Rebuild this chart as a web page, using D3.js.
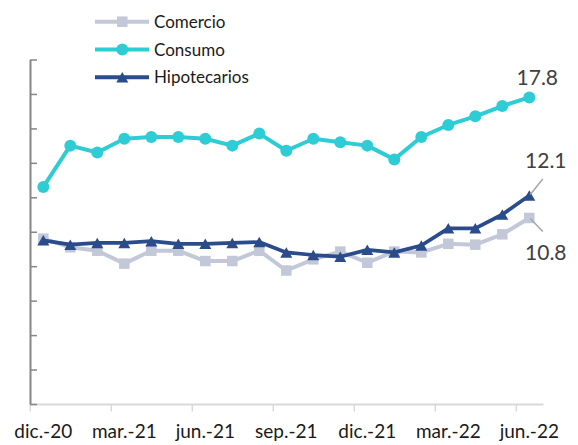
<!DOCTYPE html>
<html>
<head>
<meta charset="utf-8">
<script src="https://cdn.jsdelivr.net/npm/d3@7"></script>
<style>
  html, body { margin: 0; padding: 0; background: #fff; }
  svg { display: block; font-family: Lato, "Open Sans", sans-serif; }
</style>
</head>
<body>
<svg id="chart" width="578" height="445"></svg>
<script>
const months = ["dic.-20","ene.-21","feb.-21","mar.-21","abr.-21","may.-21","jun.-21","jul.-21","ago.-21","sep.-21","oct.-21","nov.-21","dic.-21","ene.-22","feb.-22","mar.-22","abr.-22","may.-22","jun.-22"];
const tickLabels = ["dic.-20","mar.-21","jun.-21","sep.-21","dic.-21","mar.-22","jun.-22"];
const comercio = [9.6, 9.1, 8.9, 8.15, 8.9, 8.9, 8.3, 8.3, 8.9, 7.75, 8.4, 8.85, 8.2, 8.85, 8.8, 9.3, 9.25, 9.85, 10.8];
const consumo = [12.6, 15.0, 14.6, 15.4, 15.5, 15.5, 15.4, 15.0, 15.7, 14.7, 15.4, 15.2, 15.0, 14.2, 15.5, 16.2, 16.7, 17.3, 17.8];
const hipotecarios = [9.5, 9.25, 9.35, 9.35, 9.45, 9.3, 9.3, 9.35, 9.4, 8.8, 8.65, 8.55, 8.95, 8.8, 9.2, 10.2, 10.2, 11.0, 12.1];
const yTicks = [0, 2, 4, 6, 8, 10, 12, 14, 16, 18, 20];

const series = [
  { name: "Comercio", values: comercio, color: "#C3C8D8", marker: "square", width: 4 },
  { name: "Consumo", values: consumo, color: "#2ECCD4", marker: "circle", width: 4 },
  { name: "Hipotecarios", values: hipotecarios, color: "#2A4C8A", marker: "triangle", width: 3.75 }
];

const svg = d3.select("#chart");
const x = d3.scaleBand().domain(months).range([29.8, 542.8]).padding(0);
const y = d3.scaleLinear().domain([0, 20]).range([404, 59.5]);
const cx = d => x(d) + x.bandwidth() / 2;

// X axis
const xAxisY = 404.5;
svg.append("line").attr("x1", 30).attr("x2", 543.5).attr("y1", xAxisY).attr("y2", xAxisY)
  .attr("stroke", "#D9D9D9").attr("stroke-width", 2);
svg.selectAll(".xtick").data(tickLabels).join("line")
  .attr("x1", d => x(d) + 0.5).attr("x2", d => x(d) + 0.5)
  .attr("y1", xAxisY).attr("y2", xAxisY + 7)
  .attr("stroke", "#D9D9D9").attr("stroke-width", 1.5);
svg.selectAll(".xlab").data(tickLabels).join("text")
  .attr("x", d => cx(d)).attr("y", 438)
  .attr("text-anchor", "middle").attr("font-size", 19).attr("fill", "#1a1a1a")
  .text(d => d);

// Y axis
const yAxis = d3.axisRight(y).tickValues(yTicks).tickSize(7).tickSizeOuter(0).tickFormat("");
const gy = svg.append("g").attr("transform", "translate(30,0)").call(yAxis);
gy.select(".domain").attr("stroke", "#868686").attr("stroke-width", 2);
gy.selectAll(".tick line").attr("stroke", "#868686").attr("stroke-width", 1.5);

function drawMarker(g, type, px, py, color) {
  if (type === "circle") {
    g.append("circle").attr("cx", px).attr("cy", py).attr("r", 6).attr("fill", color);
  } else if (type === "square") {
    const s = 10.5;
    g.append("rect").attr("x", px - s / 2).attr("y", py - s / 2).attr("width", s).attr("height", s).attr("fill", color);
  } else {
    const w = 12, h = 10.5;
    g.append("path").attr("d", `M${px},${py - h / 2}L${px + w / 2},${py + h / 2}L${px - w / 2},${py + h / 2}Z`).attr("fill", color);
  }
}

const line = d3.line().x((d, i) => cx(months[i])).y(d => y(d));
series.forEach(s => {
  const g = svg.append("g");
  g.append("path").attr("d", line(s.values)).attr("fill", "none")
    .attr("stroke", s.color).attr("stroke-width", s.width).attr("stroke-linejoin", "round");
  s.values.forEach((v, i) => drawMarker(g, s.marker, cx(months[i]), y(v), s.color));
});

// Legend
const legendY = [21.7, 49.5, 77.3];
series.forEach((s, i) => {
  const g = svg.append("g");
  g.append("line").attr("x1", 95).attr("x2", 149).attr("y1", legendY[i]).attr("y2", legendY[i])
    .attr("stroke", s.color).attr("stroke-width", 4);
  drawMarker(g, s.marker, 122.3, legendY[i], s.color);
  g.append("text").attr("x", 154).attr("y", legendY[i] + 6).attr("font-size", 17).attr("fill", "#1a1a1a").text(s.name);
});

// Data labels
const last = months.length - 1;
const lx = cx(months[last]);
svg.append("text").attr("x", lx + 8).attr("y", 85).attr("text-anchor", "middle")
  .attr("font-size", 21).attr("fill", "#404040").text(consumo[last].toFixed(1));
svg.append("text").attr("x", lx + 16.5).attr("y", 168.3).attr("text-anchor", "middle")
  .attr("font-size", 21).attr("fill", "#404040").text(hipotecarios[last].toFixed(1));
svg.append("text").attr("x", lx + 16.5).attr("y", 260).attr("text-anchor", "middle")
  .attr("font-size", 21).attr("fill", "#404040").text(comercio[last].toFixed(1));
svg.append("line").attr("x1", lx + 13.5).attr("y1", 179).attr("x2", lx + 1).attr("y2", y(hipotecarios[last]) - 1)
  .attr("stroke", "#A6A6A6").attr("stroke-width", 1.5);
svg.append("line").attr("x1", lx + 1).attr("y1", y(comercio[last]) + 0.5).attr("x2", lx + 13.5).attr("y2", 231.5)
  .attr("stroke", "#A6A6A6").attr("stroke-width", 1.5);
</script>
</body>
</html>
